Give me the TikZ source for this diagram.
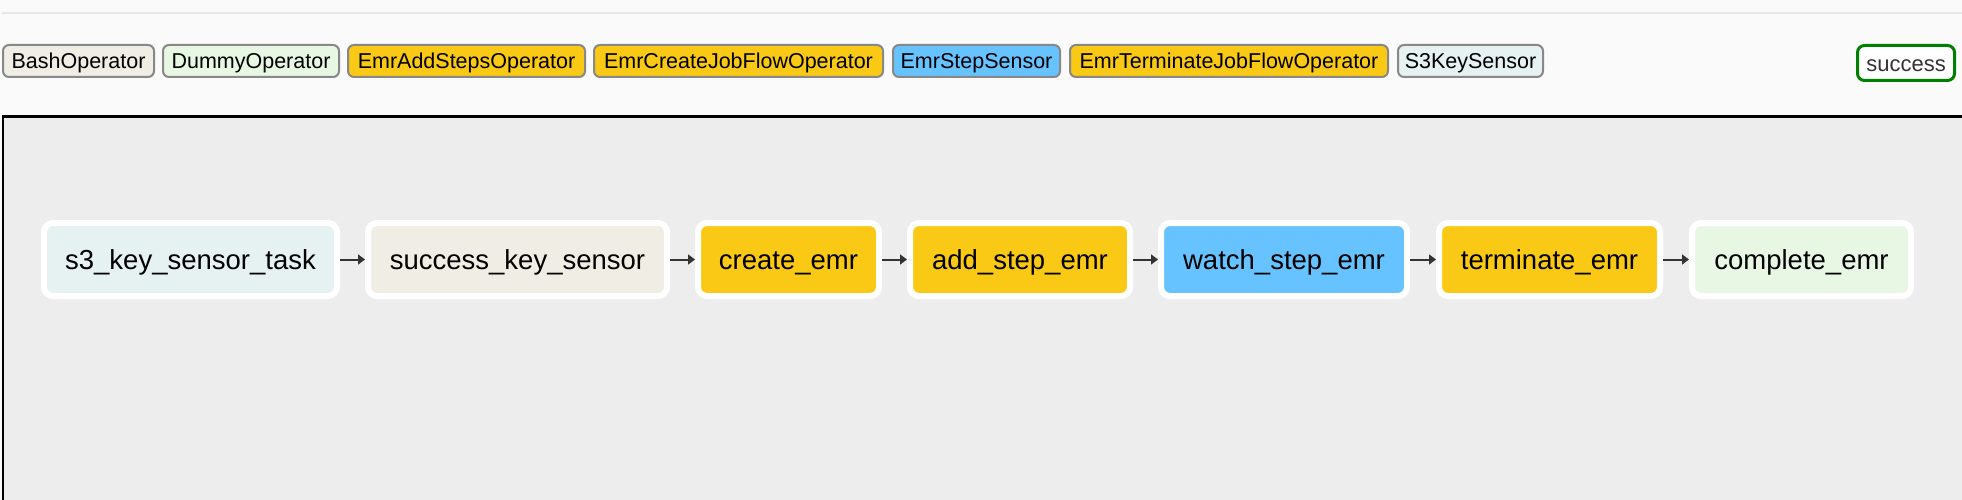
\documentclass[tikz,border=0pt]{standalone}
\usepackage{fontspec}
\setmainfont{Liberation Sans}
\usetikzlibrary{arrows.meta}
\definecolor{pagebg}{HTML}{FAFAFA}
\definecolor{panelbg}{HTML}{EDEDED}
\definecolor{topline}{HTML}{E6E6E6}
\definecolor{legendgray}{HTML}{888888}
\definecolor{arrowgray}{HTML}{333333}
\definecolor{bashc}{HTML}{F0EDE4}
\definecolor{dummyc}{HTML}{E8F7E4}
\definecolor{emrc}{HTML}{F9C915}
\definecolor{stepc}{HTML}{66C3FF}
\definecolor{sensorc}{HTML}{E6F1F2}
\definecolor{okgreen}{HTML}{008000}
\definecolor{oktext}{HTML}{333333}
\begin{document}
\begin{tikzpicture}[x=1pt,y=-1pt,
  task/.style={draw=white, line width=6pt, rounded corners=9pt, minimum height=73pt,
    inner sep=0pt, font=\fontsize{27.5}{33}\selectfont, text=black,
    text height=20pt, text depth=0pt},
  legendbox/.style={draw=legendgray, line width=2pt, rounded corners=6pt, minimum height=32pt,
    inner sep=0pt, font=\fontsize{21.5}{26}\selectfont, text=black,
    text height=15.5pt, text depth=0pt},
  statebox/.style={draw=okgreen, line width=3pt, rounded corners=7pt, minimum height=35pt,
    minimum width=97pt, inner sep=0pt, fill=white, font=\fontsize{22}{26}\selectfont, text=oktext,
    text height=17pt, text depth=0pt},
  flow/.style={draw=arrowgray, line width=2pt, -{Triangle[length=7pt,width=10pt]}}
]
\useasboundingbox (0,0) rectangle (1962,500);
\fill[pagebg] (0,0) rectangle (1962,500);
\draw[topline, line width=2pt] (2,13) -- (1962,13);
% panel
\fill[panelbg] (3,116) rectangle (1962,500);
\draw[black, line width=2.8pt] (3,501) -- (3,116.2) -- (1963,116.2);

% legend
\node[legendbox, fill=bashc,   minimum width=151pt] (lbash)  at (78.5,61)  {BashOperator};
\node[legendbox, fill=dummyc,  minimum width=176pt] (ldummy) at (251,61)   {DummyOperator};
\node[legendbox, fill=emrc,    minimum width=237pt] (ladd)   at (466.5,61) {EmrAddStepsOperator};
\node[legendbox, fill=emrc,    minimum width=289pt] (lcreate) at (738.5,61) {EmrCreateJobFlowOperator};
\node[legendbox, fill=stepc,   minimum width=167pt] (lstep)  at (976.5,61) {EmrStepSensor};
\node[legendbox, fill=emrc,    minimum width=318pt] (lterm)  at (1229,61)  {EmrTerminateJobFlowOperator};
\node[legendbox, fill=sensorc, minimum width=145pt] (ls3)    at (1470.5,61) {S3KeySensor};
\node[statebox] (lsuccess) at (1906,63) {success};

% tasks
\node[task, fill=sensorc, minimum width=293pt] (t1) at (190.5,259.5) {s3\_key\_sensor\_task};
\node[task, fill=bashc,   minimum width=299pt] (t2) at (517.5,259.5) {success\_key\_sensor};
\node[task, fill=emrc,    minimum width=181pt] (t3) at (788.5,259.5) {create\_emr};
\node[task, fill=emrc,    minimum width=220pt] (t4) at (1020,259.5)  {add\_step\_emr};
\node[task, fill=stepc,   minimum width=246pt] (t5) at (1284,259.5)  {watch\_step\_emr};
\node[task, fill=emrc,    minimum width=221pt] (t6) at (1549.5,259.5) {terminate\_emr};
\node[task, fill=dummyc,  minimum width=219pt] (t7) at (1801.5,259.5) {complete\_emr};

\draw[flow] (t1.east) -- (t2.west);
\draw[flow] (t2.east) -- (t3.west);
\draw[flow] (t3.east) -- (t4.west);
\draw[flow] (t4.east) -- (t5.west);
\draw[flow] (t5.east) -- (t6.west);
\draw[flow] (t6.east) -- (t7.west);
\end{tikzpicture}
\end{document}
